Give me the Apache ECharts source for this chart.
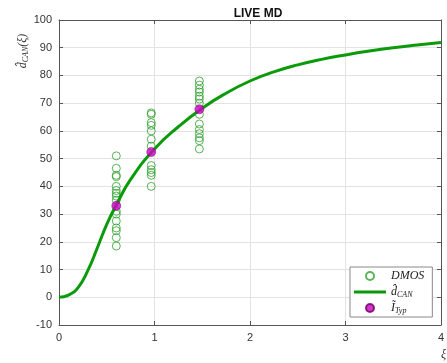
<!DOCTYPE html>
<html>
<head>
<meta charset="utf-8">
<script src="https://cdn.jsdelivr.net/npm/echarts@6/dist/echarts.min.js"></script>
<style>
  html, body { margin: 0; padding: 0; background: #fff; }
  #chart { width: 447px; height: 363px; }
</style>
</head>
<body>
<div id="chart"></div>
<script>
// fitted curve d_CAN(xi)
const curveXi = [0, 0.1, 0.2, 0.3, 0.4, 0.5, 0.6, 0.75, 1.0, 1.25, 1.5, 1.75, 2.0, 2.25, 2.5, 2.75, 3.0, 3.25, 3.5, 3.75, 4.0]
const curveVal = [0, 0.8, 3.5, 9.5, 17.7, 26.3, 33.3, 42.5, 53.5, 61.5, 68.2, 73.6, 78.0, 81.3, 83.8, 85.8, 87.4, 88.8, 90.0, 91.0, 91.9]

// DMOS scores, three groups of videos
const dmosXi = [0.6, 0.966, 1.47]
const dmosGroup1 = [51, 46.5, 44, 43.5, 40, 38.5, 37.5, 36.5, 35, 31, 30, 27.5, 25, 24, 21.5, 18.5]
const dmosGroup2 = [66.5, 66, 63, 62, 60, 57, 54.5, 47.5, 46, 45, 44, 40]
const dmosGroup3 = [78, 76.5, 75, 74, 72.5, 71.5, 70, 66, 62.5, 60.5, 59, 57.5, 56.5, 53.5]

// typical points
const typXi = [0.6, 0.966, 1.47]
const typVal = [33, 52.4, 67.8]

const green = '#0a9a0a'
const lightGreen = '#2fa02f'
const magenta = '#d000c8'

const dmosData = []
;[dmosGroup1, dmosGroup2, dmosGroup3].forEach((g, i) => {
  g.forEach(v => dmosData.push([dmosXi[i], v]))
})
const curveData = curveXi.map((x, i) => [x, curveVal[i]])
const typData = typXi.map((x, i) => [x, typVal[i]])

const serif = "'Liberation Serif', 'DejaVu Serif', serif"
const sans = "'Liberation Sans', Arial, sans-serif"

const axisCommon = {
  axisLine: { show: true, onZero: false, lineStyle: { color: '#555', width: 1 } },
  axisTick: { show: true, inside: true, length: 4, lineStyle: { color: '#555' } },
}

const chart = echarts.init(document.getElementById('chart'))
chart.setOption({
  backgroundColor: '#fff',
  animation: false,
  title: {
    text: 'LIVE MD',
    left: 253,
    textAlign: 'center',
    top: 3,
    textStyle: { fontFamily: sans, fontSize: 12, fontWeight: 'bold', color: '#111' }
  },
  grid: { left: 59, right: 1, top: 20, bottom: 38 },
  xAxis: [{
    type: 'value',
    min: 0, max: 4, interval: 1,
    ...axisCommon,
    splitLine: { show: true, lineStyle: { color: '#e3e3e3' } },
    axisLabel: { fontFamily: sans, fontSize: 11, color: '#333', margin: 7 }
  }, {
    type: 'value', position: 'top',
    min: 0, max: 4, interval: 1,
    ...axisCommon,
    splitLine: { show: false },
    axisLabel: { show: false }
  }],
  yAxis: [{
    type: 'value',
    min: -10, max: 100, interval: 10,
    ...axisCommon,
    splitLine: { show: true, lineStyle: { color: '#e3e3e3' } },
    axisLabel: { fontFamily: sans, fontSize: 11, color: '#333', margin: 7 }
  }, {
    type: 'value', position: 'right',
    min: -10, max: 100, interval: 10,
    ...axisCommon,
    splitLine: { show: false },
    axisLabel: { show: false }
  }],
  legend: {
    orient: 'vertical',
    left: 350,
    top: 267,
    padding: [2, 8, 2, 4],
    itemWidth: 32,
    itemHeight: 8,
    itemGap: 2,
    backgroundColor: '#fff',
    borderColor: '#888',
    borderWidth: 1,
    borderRadius: 0,
    data: [
      { name: 'DMOS' },
      { name: 'dCAN', icon: 'path://M0,0 L32,0 L32,3 L0,3 Z' },
      { name: 'ITyp' }
    ],
    formatter: (name) => {
      if (name === 'DMOS') return '{it|DMOS}'
      if (name === 'dCAN') return '{it|d\u0302}{sub|CAN}'
      return '{it|I\u0303}{sub|Typ}'
    },
    textStyle: {
      lineHeight: 14,
      rich: {
        it: { fontFamily: serif, fontStyle: 'italic', fontSize: 12, color: '#222' },
        sub: { fontFamily: serif, fontStyle: 'italic', fontSize: 8, color: '#222', padding: [5, 0, 0, 0] }
      }
    }
  },
  graphic: [{
    type: 'text',
    x: 23, y: 51,
    rotation: Math.PI / 2,
    style: {
      text: '{it|d\u0302}{sub|CAN}{it|(\u03be)}',
      align: 'center',
      verticalAlign: 'middle',
      rich: {
        it: { fontFamily: serif, fontStyle: 'italic', fontSize: 12, fill: '#333' },
        sub: { fontFamily: serif, fontStyle: 'italic', fontSize: 8, fill: '#333', padding: [5, 0, 0, 0] }
      }
    }
  }, {
    type: 'text',
    x: 441, y: 355,
    style: {
      text: '\u03be',
      align: 'left',
      verticalAlign: 'middle',
      font: 'italic 12px ' + serif,
      fill: '#333'
    }
  }],
  series: [{
    name: 'DMOS',
    type: 'scatter',
    data: dmosData,
    symbol: 'circle',
    symbolSize: 8,
    itemStyle: { color: 'rgba(255,255,255,0)', borderColor: lightGreen, borderWidth: 1 },
    z: 2
  }, {
    name: 'dCAN',
    type: 'line',
    data: curveData,
    smooth: 0.5,
    showSymbol: false,
    symbol: 'none',
    lineStyle: { color: green, width: 3 },
    itemStyle: { color: green },
    z: 3
  }, {
    name: 'ITyp',
    type: 'scatter',
    data: typData,
    symbol: 'circle',
    symbolSize: 9,
    itemStyle: { color: magenta, borderColor: '#6a0060', borderWidth: 0.6 },
    z: 4
  }]
})
</script>
</body>
</html>
